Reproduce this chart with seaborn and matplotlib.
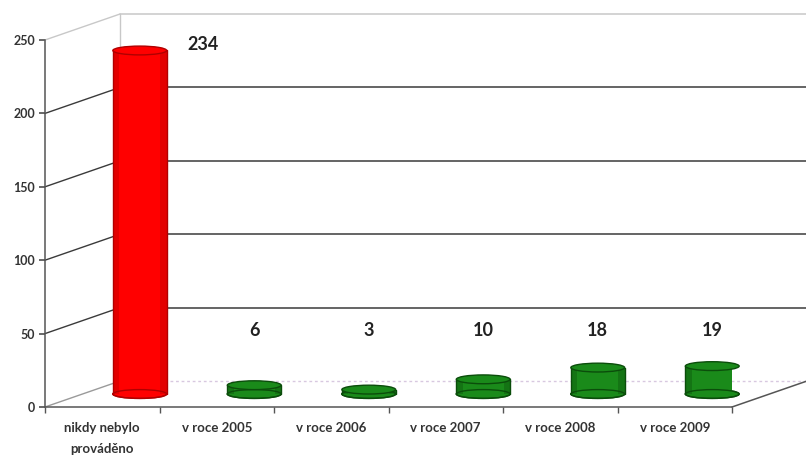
import matplotlib
matplotlib.use("Agg")
import matplotlib.pyplot as plt
import seaborn as sns
import pandas as pd
import numpy as np
from matplotlib.patches import Ellipse, Rectangle

categories = ["nikdy nebylo\nprováděno", "v roce 2005", "v roce 2006",
              "v roce 2007", "v roce 2008", "v roce 2009"]
values = [234, 6, 3, 10, 18, 19]
bar_colors = ["#ff0000", "#1a8a1a", "#1a8a1a", "#1a8a1a", "#1a8a1a", "#1a8a1a"]
edge_colors = ["#b00000", "#0b4d0b", "#0b4d0b", "#0b4d0b", "#0b4d0b", "#0b4d0b"]
yticks = [0, 50, 100, 150, 200, 250]

sns.set_theme(style="white")
plt.rcParams["font.family"] = ["Lato", "DejaVu Sans"]

W, H = 806, 455
fig = plt.figure(figsize=(W / 100, H / 100), dpi=100)
ax = fig.add_axes([45 / W, 48 / H, 687 / W, 367 / H])

df = pd.DataFrame({"cat": categories, "val": values})
sns.barplot(data=df, x="cat", y="val", hue="cat", palette=bar_colors,
            width=0.47, legend=False, ax=ax, zorder=5)

ax.set_xlim(-0.5, 5.5)
ax.set_ylim(0, 250)

# depth offset (back wall) in data units
DX, DY = 0.655, 17.7
GRID = "#3a3a3a"
LIGHT = "#c8c8c8"

# back wall
ax.plot([-0.5 + DX, -0.5 + DX], [DY, 250 + DY], color=LIGHT, lw=1, clip_on=False, zorder=1)
ax.plot([5.5 + DX, 5.5 + DX], [DY, 250 + DY], color=LIGHT, lw=1, clip_on=False, zorder=1)
for t in yticks:
    col = GRID if 0 < t < 250 else LIGHT
    if t == 0:
        ax.plot([-0.5 + DX, 5.5 + DX], [t + DY, t + DY], color="#d8c8e0", lw=1,
                ls=(0, (2, 2)), clip_on=False, zorder=1)
    else:
        ax.plot([-0.5 + DX, 5.5 + DX], [t + DY, t + DY], color=col, lw=1.1,
                clip_on=False, zorder=1)
    # left side wall diagonals
    ax.plot([-0.5, -0.5 + DX], [t, t + DY], color=col if t != 0 else "#9a9a9a",
            lw=1.0, clip_on=False, zorder=1)
# floor right diagonal
ax.plot([5.5, 5.5 + DX], [0, DY], color="#555555", lw=1.1, clip_on=False, zorder=1)

# turn bars into cylinders at mid depth
for i, p in enumerate(ax.patches[:len(values)]):
    x0 = p.get_x() + DX / 2
    w = p.get_width()
    h = p.get_height()
    y0 = DY / 2
    p.set_x(x0)
    p.set_y(y0)
    p.set_facecolor(bar_colors[i])
    p.set_edgecolor("none")
    eh = 6.0
    ax.add_patch(Ellipse((x0 + w / 2, y0), w, eh, facecolor=bar_colors[i],
                         edgecolor=edge_colors[i], lw=1.0, zorder=4, clip_on=False))
    # shading strips
    ax.add_patch(Rectangle((x0, y0), w * 0.12, h, facecolor=edge_colors[i],
                           alpha=0.35, edgecolor="none", zorder=5.5))
    ax.add_patch(Rectangle((x0 + w * 0.88, y0), w * 0.12, h, facecolor=edge_colors[i],
                           alpha=0.35, edgecolor="none", zorder=5.5))
    ax.plot([x0, x0], [y0, y0 + h], color=edge_colors[i], lw=1.0, zorder=6)
    ax.plot([x0 + w, x0 + w], [y0, y0 + h], color=edge_colors[i], lw=1.0, zorder=6)
    ax.add_patch(Ellipse((x0 + w / 2, y0 + h), w, eh, facecolor=bar_colors[i],
                         edgecolor=edge_colors[i], lw=1.0, zorder=7, clip_on=False))
    ax.add_patch(Ellipse((x0 + w / 2, y0), w, eh, facecolor="none",
                         edgecolor=edge_colors[i], lw=1.0, zorder=6, clip_on=False))
    # value labels
    if values[i] > 100:
        lx, ly = i + 0.88, values[i] + 12.6
    else:
        lx, ly = i + DX / 2, 52
    ax.text(lx, ly, str(values[i]), ha="center", va="center", fontsize=13,
            fontweight="bold", color="#222222", zorder=8)

# spines and ticks
for s in ["top", "right"]:
    ax.spines[s].set_visible(False)
for s in ["left", "bottom"]:
    ax.spines[s].set_color("#555555")
    ax.spines[s].set_linewidth(1.1)
ax.set_yticks(yticks)
ax.set_yticklabels([str(t) for t in yticks], fontweight="bold")
ax.set_xticks(range(len(categories)))
ax.set_xticklabels(categories, fontsize=9.5, color="#333333", linespacing=1.9,
                   fontweight="bold")
ax.set_xticks(np.arange(-0.5, 6, 1), minor=True)
ax.tick_params(axis="x", which="major", length=0, pad=11)
ax.tick_params(axis="x", which="minor", length=4, color="#555555", direction="out",
               bottom=True)
ax.tick_params(axis="y", length=4, color="#555555", direction="out", left=True,
               labelsize=9, labelcolor="#333333", pad=3)
ax.set_xlabel("")
ax.set_ylabel("")
ax.grid(False)
ax.set_facecolor("none")

fig.savefig("out.png", dpi=100)
